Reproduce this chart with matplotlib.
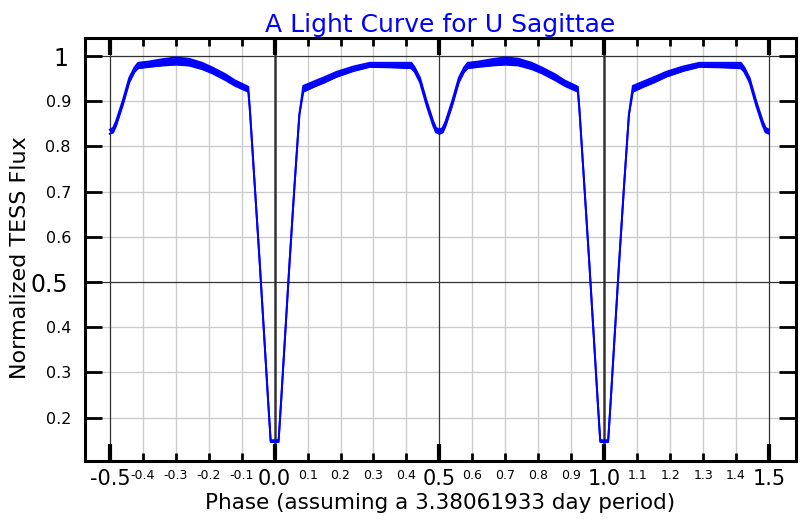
import matplotlib.pyplot as plt
from matplotlib.ticker import FixedLocator, FuncFormatter

# one orbit, phase -0.5 .. 0.5.
# hi / lo = upper and lower edge of the scatter band
phase = [-0.500, -0.490, -0.481, -0.461, -0.441, -0.425, -0.414,
         -0.380, -0.340, -0.300, -0.260, -0.220, -0.190, -0.150, -0.120,
         -0.080, -0.075, -0.060, -0.045, -0.030, -0.020, -0.012,
         0.012, 0.020, 0.030, 0.045, 0.060, 0.075, 0.087,
         0.120, 0.150, 0.188, 0.240, 0.289, 0.350, 0.415,
         0.425, 0.441, 0.461, 0.481, 0.490, 0.500]
flux_hi = [0.837, 0.841, 0.856, 0.901, 0.952, 0.975, 0.985,
           0.988, 0.993, 0.997, 0.994, 0.985, 0.975, 0.960, 0.946,
           0.932, 0.880, 0.710, 0.540, 0.360, 0.240, 0.150,
           0.150, 0.240, 0.360, 0.540, 0.710, 0.870, 0.934,
           0.944, 0.953, 0.965, 0.977, 0.985, 0.985, 0.985,
           0.975, 0.952, 0.901, 0.856, 0.841, 0.837]
flux_lo = [0.828, 0.831, 0.846, 0.891, 0.942, 0.965, 0.973,
           0.976, 0.979, 0.981, 0.979, 0.971, 0.962, 0.947, 0.934,
           0.921, 0.880, 0.710, 0.540, 0.360, 0.240, 0.146,
           0.146, 0.240, 0.360, 0.540, 0.710, 0.870, 0.921,
           0.932, 0.941, 0.954, 0.967, 0.976, 0.975, 0.973,
           0.965, 0.942, 0.891, 0.846, 0.831, 0.828]
cycle_shift = [0.0, 1.0]

x_major = [-0.5, 0.0, 0.5, 1.0, 1.5]
x_minor = [-0.4, -0.3, -0.2, -0.1, 0.1, 0.2, 0.3, 0.4,
           0.6, 0.7, 0.8, 0.9, 1.1, 1.2, 1.3, 1.4]
y_major = [0.5, 1.0]
y_minor = [0.2, 0.3, 0.4, 0.6, 0.7, 0.8, 0.9]
eclipse_lines = [0.0, 1.0]

plt.rcParams['axes.unicode_minus'] = False
plt.rcParams['font.family'] = 'DejaVu Sans'

fig = plt.figure(figsize=(8, 5.2), dpi=100)
ax = fig.add_axes([0.106, 0.1135, 0.889, 0.8135])

# grid
for x in x_minor:
    ax.axvline(x, color='#cccccc', lw=1.0, zorder=0)
for y in y_minor:
    ax.axhline(y, color='#cccccc', lw=1.0, zorder=0)
for x in x_major:
    lw = 1.8 if x in eclipse_lines else 0.9
    ax.axvline(x, color='#333333', lw=lw, zorder=1)
for y in y_major:
    ax.axhline(y, color='#333333', lw=0.9, zorder=1)

# light curve, same orbit drawn twice
for s in cycle_shift:
    ph = [p + s for p in phase]
    ax.fill_between(ph, flux_lo, flux_hi, color='#0000ff', lw=0, zorder=2)
    ax.plot(ph, flux_hi, color='#0000ff', lw=1.4, zorder=2)
    ax.plot(ph, flux_lo, color='#0000ff', lw=1.4, zorder=2)

ax.set_xlim(-0.576, 1.582)
ax.set_ylim(0.104, 1.04)

ax.xaxis.set_major_locator(FixedLocator(x_major))
ax.xaxis.set_minor_locator(FixedLocator(x_minor))
ax.yaxis.set_major_locator(FixedLocator(y_major))
ax.yaxis.set_minor_locator(FixedLocator(y_minor))
ax.xaxis.set_major_formatter(FuncFormatter(lambda v, p: f"{v:.1f}"))
ax.xaxis.set_minor_formatter(FuncFormatter(lambda v, p: f"{v:.1f}"))
ax.yaxis.set_major_formatter(FuncFormatter(lambda v, p: f"{v:g}"))
ax.yaxis.set_minor_formatter(FuncFormatter(lambda v, p: f"{v:.1f}"))

ax.tick_params(axis='x', which='major', direction='in', length=12, width=3,
               top=True, labelsize=15, pad=6)
ax.tick_params(axis='x', which='minor', direction='in', length=6, width=2,
               top=True, labelsize=9, pad=6)
ax.tick_params(axis='y', which='major', direction='in', length=12, width=2,
               right=True, labelsize=17, pad=12)
ax.tick_params(axis='y', which='minor', direction='in', length=12, width=2,
               right=True, labelsize=11.5, pad=10)

for sp in ax.spines.values():
    sp.set_linewidth(2.2)

ax.set_title("A Light Curve for U Sagittae", color='#0000ff', fontsize=18, pad=4)
ax.set_xlabel("Phase (assuming a 3.38061933 day period)", fontsize=15.5, labelpad=3)
ax.set_ylabel("Normalized TESS Flux", fontsize=16, va='center')
ax.yaxis.set_label_coords(-0.091, 0.48)

fig.savefig("out.png", dpi=100)
